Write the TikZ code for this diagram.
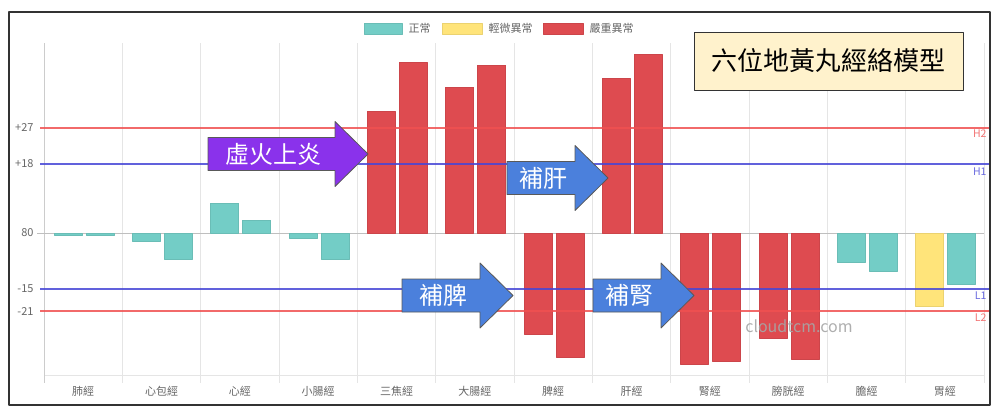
\documentclass[tikz,border=0pt]{standalone}
\usepackage{fontspec}
\setmainfont{Noto Sans CJK TC}
\definecolor{normal}{RGB}{115,205,198}
\definecolor{mild}{RGB}{255,228,122}
\definecolor{severe}{RGB}{222,75,80}
\definecolor{hiline}{RGB}{240,80,80}
\definecolor{loline}{RGB}{70,70,215}
\definecolor{firearrow}{RGB}{138,50,235}
\definecolor{tonearrow}{RGB}{75,128,220}
\definecolor{titlebg}{RGB}{255,242,204}
\begin{document}
\begin{tikzpicture}[x=1pt,y=-1pt, line join=round]
	\tikzset{label style/.style={font=\fontsize{11}{13}\selectfont,text=black!60},
		bar style/.style={draw=#1!92!black,fill=#1,line width=0.4pt},
		arrow style/.style={draw=black!65,line width=0.8pt,fill=#1},
		arrow text/.style={font=\fontsize{24}{26}\selectfont,text=white}}
	\useasboundingbox (0,0) rectangle (1000,418);
	\fill[white] (0,0) rectangle (1000,418);
	\foreach \i in {0,...,12} \draw[black!10] ({44+940/12*\i},43) -- ({44+940/12*\i},383);
	\draw[black!10] (44,375) -- (984,375);
	\draw[black!20] (44,43) -- (44,383);
	\draw[black!25] (37,233) -- (984,233);
	\foreach \i/\ca/\ya/\cb/\yb in {0/normal/235/normal/235, 1/normal/241/normal/259, 2/normal/203/normal/220,
		3/normal/238/normal/259, 4/severe/111/severe/62, 5/severe/87/severe/65, 6/severe/334/severe/357,
		7/severe/78/severe/54, 8/severe/364/severe/361, 9/severe/338/severe/359, 10/normal/262/normal/271,
		11/mild/306/normal/284}{
		\draw[bar style=\ca] ({54+940/12*\i},233) rectangle ({82+940/12*\i},\ya);
		\draw[bar style=\cb] ({86+940/12*\i},233) rectangle ({114+940/12*\i},\yb);
	}
	\foreach \n [count=\i from 0] in {肺經,心包經,心經,小腸經,三焦經,大腸經,脾經,肝經,腎經,膀胱經,膽經,胃經}
	\node[label style] (cat\i) at ({83.2+940/12*\i},391) {\n};
	\draw[hiline, line width=1.8pt, opacity=0.85] (40,128) -- (990,128) (40,311) -- (990,311);
	\draw[loline, line width=1.8pt, opacity=0.85] (40,164) -- (990,164) (40,289) -- (990,289);
	\node[label style, anchor=east] (valh2) at (37,128) {+27};
	\node[label style, anchor=east] (valh1) at (37,164) {+18};
	\node[label style, anchor=east] (valzero) at (37,233) {80};
	\node[label style, anchor=east] (vall1) at (37,289) {-15};
	\node[label style, anchor=east] (vall2) at (37,311) {-21};
	\node[label style, font=\fontsize{10.5}{12}\selectfont, text=hiline!80, anchor=east] (h2) at (990,134) {H2};
	\node[label style, font=\fontsize{10.5}{12}\selectfont, text=loline!80, anchor=east] (h1) at (990,172) {H1};
	\node[label style, font=\fontsize{10.5}{12}\selectfont, text=loline!80, anchor=east] (l1) at (990,296) {L1};
	\node[label style, font=\fontsize{10.5}{12}\selectfont, text=hiline!80, anchor=east] (l2) at (990,318) {L2};
	\draw[bar style=normal] (364,23) rectangle (402,34);
	\node[label style, anchor=west] (lnormal) at (405,28.5) {正常};
	\draw[bar style=mild] (442,23) rectangle (482,34);
	\node[label style, anchor=west] (lmild) at (485,28.5) {輕微異常};
	\draw[bar style=severe] (543,23) rectangle (583,34);
	\node[label style, anchor=west] (lsevere) at (586,28.5) {嚴重異常};
	\node[draw=black!80, line width=1pt, fill=titlebg, minimum width=269pt, minimum height=58pt,
		font=\fontsize{26}{30}\selectfont] (title) at (828.5,61) {六位地黃丸經絡模型};
	\foreach \xa/\xb/\yc/\col/\nm/\txt in {208/335/154/firearrow/fire/虛火上炎, 507/575/178/tonearrow/liver/補肝,
		402/480/295.5/tonearrow/spleen/補脾, 593/661/295.5/tonearrow/kidney/補腎}{
		\draw[arrow style=\col] (\xa,\yc-16.5) -- (\xb,\yc-16.5) -- (\xb,\yc-32.5) -- (\xb+33,\yc)
		-- (\xb,\yc+32.5) -- (\xb,\yc+16.5) -- (\xa,\yc+16.5) -- cycle;
		\node[arrow text] (\nm) at ({(\xa+\xb)/2+2},\yc) {\txt};
	}
	\node[font=\fontsize{16}{18}\selectfont, text=black!35, opacity=0.9] (mark) at (799,326) {cloudtcm.com};
	\draw[black!80, line width=2.5pt] (9,12) rectangle (990,405);
\end{tikzpicture}
\end{document}
